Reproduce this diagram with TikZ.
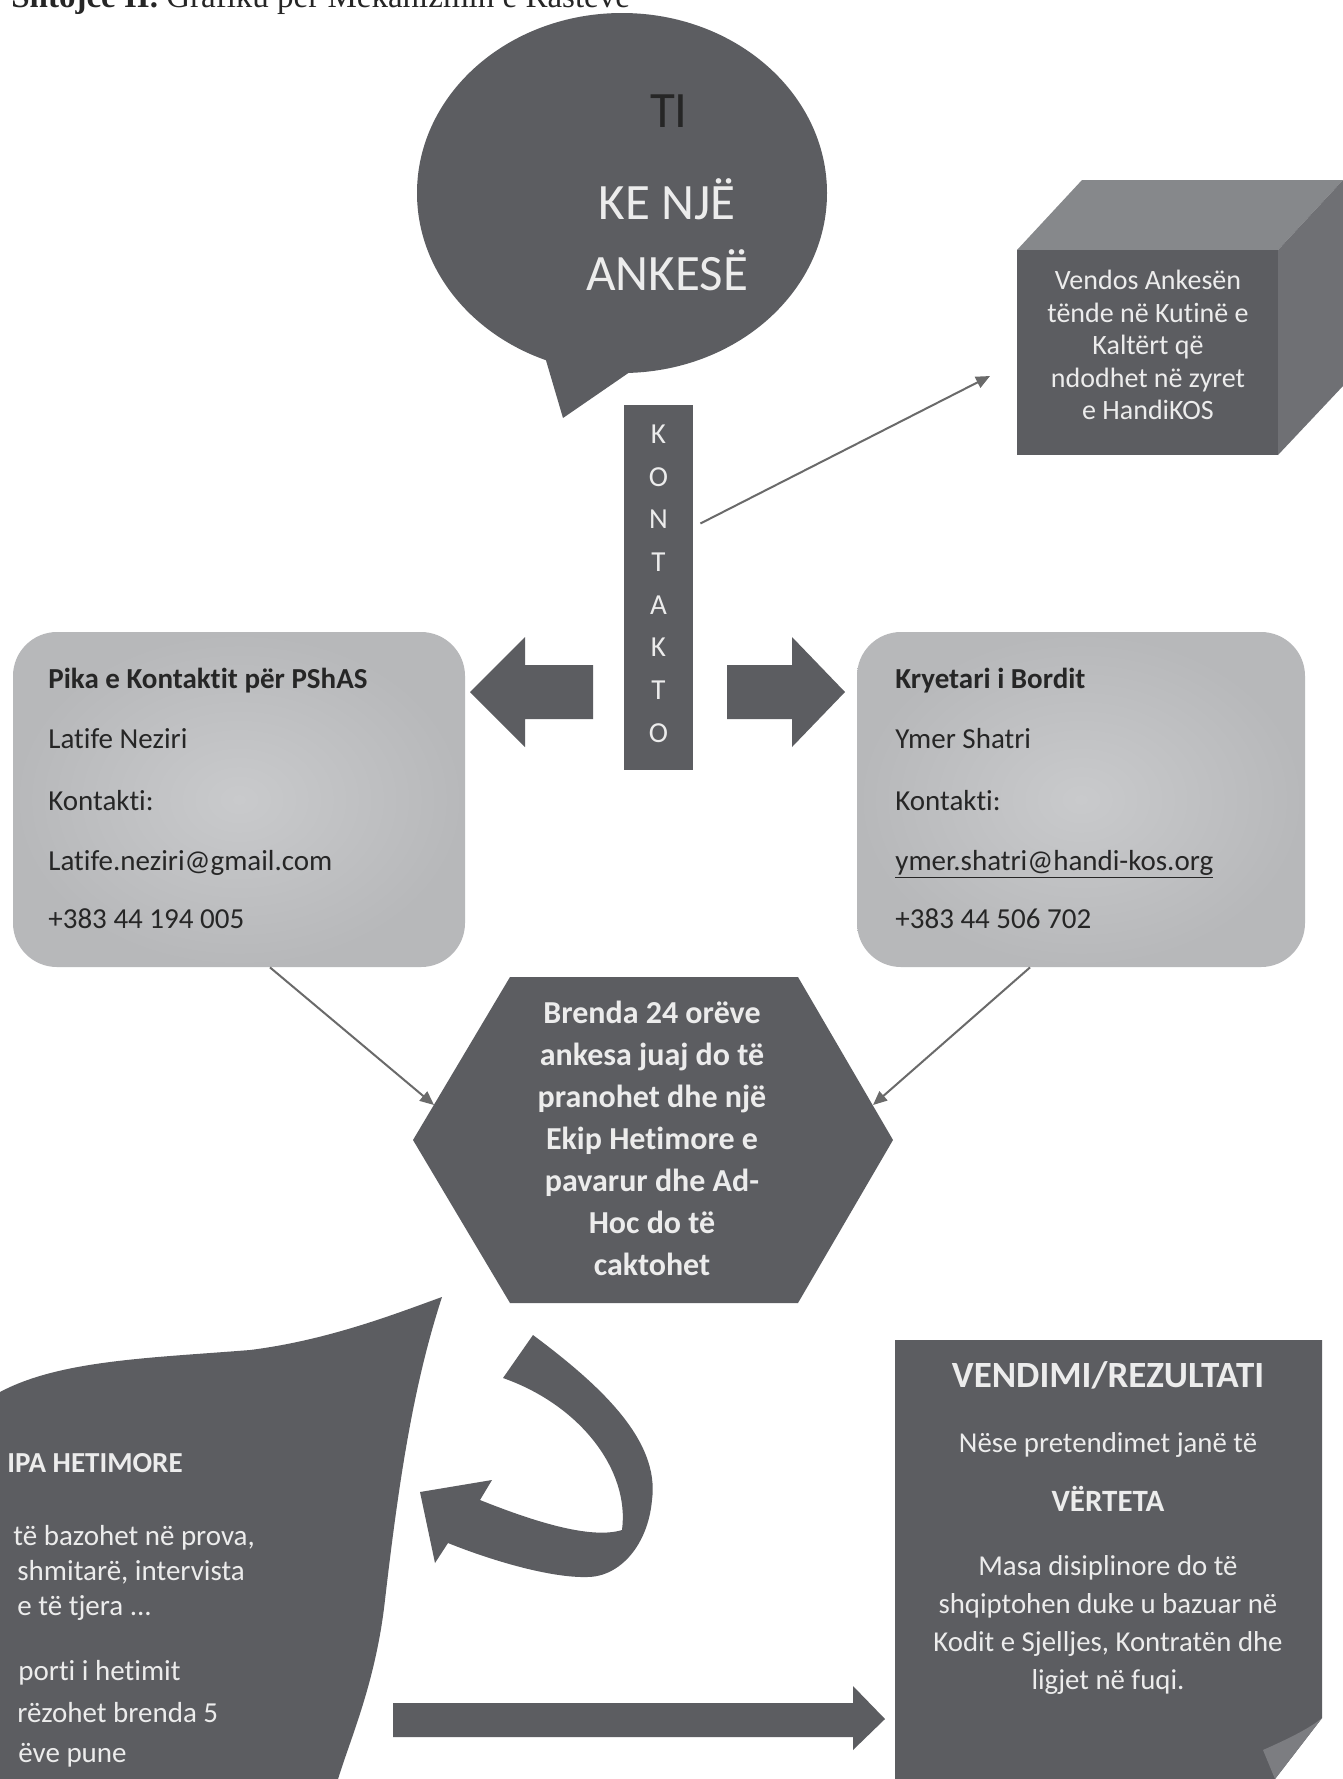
\documentclass[tikz,border=0pt]{standalone}
\usepackage{fontspec}
\setmainfont{Carlito}[Ligatures=NoCommon]
\newfontfamily\serifhead{Liberation Serif}
\usetikzlibrary{arrows.meta}

\definecolor{slate}{HTML}{5C5D61}
\definecolor{slatetop}{HTML}{86888B}
\definecolor{slateside}{HTML}{6F7074}
\definecolor{flapgray}{HTML}{7C7D81}
\definecolor{cardgray}{HTML}{B7B8BA}
\definecolor{cardlight}{HTML}{C9CACC}
\definecolor{inkdark}{HTML}{262626}
\definecolor{inklight}{HTML}{ECECEC}
\definecolor{wiregray}{HTML}{6A6A6A}

\begin{document}
\begin{tikzpicture}[x=0.5pt,y=-0.5pt,
  slab/.style={fill=slate},
  wire/.style={draw=wiregray,line width=1pt,-{Triangle[length=7pt,width=6pt]}},
  card/.style={rounded corners=22pt,inner color=cardlight,outer color=cardgray,
    minimum height=167.5pt,inner sep=0pt},
  cardtxt/.style={anchor=base west,inner sep=0pt,text=inkdark,
    font=\fontsize{14.5}{17}\selectfont},
  pale/.style={text=inklight},
  bigtxt/.style={anchor=base,inner sep=0pt,font=\fontsize{25.5}{30}\selectfont},
  leaftxt/.style={anchor=base west,inner sep=0pt,text=inklight,
    font=\fontsize{14.5}{17}\selectfont},
  ]
  \useasboundingbox[fill=white] (0,0) rectangle (1343,1779);
  % title, cut by the top of the page
  \node[anchor=base west,inner sep=0pt,text=inkdark,
    font=\serifhead\fontsize{16.5}{18}\selectfont] (title) at (11,7)
    {\textbf{Shtojce II.} Grafiku për Mekanizmin e Rastëve};
  %
  % speech bubble
  \fill[slab] (622,193) ellipse [x radius=205,y radius=180];
  \fill[slab] (540,340) -- (563,418) -- (640,365) -- cycle;
  \node[bigtxt,text=inkdark] (ti) at (669,127) {TI};
  \node[bigtxt,pale] (kenje) at (667,219) {KE NJË};
  \node[bigtxt,pale] (ankese) at (667,290) {ANKESË};
  %
  % box
  \coordinate (fa) at (1017,250);
  \coordinate (fb) at (1278,250);
  \coordinate (fc) at (1278,455);
  \coordinate (ba) at (1082,180);
  \coordinate (bb) at (1343,180);
  \coordinate (bc) at (1343,386);
  \fill[slatetop] (fa) -- (ba) -- (bb) -- (fb) -- cycle;
  \fill[slateside] (fb) -- (bb) -- (bc) -- (fc) -- cycle;
  \fill[slab] (fa) rectangle (fc);
  \node[pale,align=center,inner sep=0pt,font=\fontsize{14}{16.25}\selectfont] (kutia)
    at (1148,345) {Vendos Ankesën\\tënde në Kutinë e\\Kaltërt që\\ndodhet në zyret\\e HandiKOS};
  \coordinate (kutiain) at (990,376);
  %
  % vertical bar
  \node[slab,inner sep=0pt,minimum width=34.5pt,minimum height=182.5pt] (kbar) at (658.5,587.5) {};
  \foreach \ch [count=\i from 0] in {K,O,N,T,A,K,T,O}
    \node[pale,inner sep=0pt,font=\fontsize{14.5}{16}\selectfont] (kl\i) at (658.5,{434+42.7*\i}) {\ch};
  \draw[wire] ([shift={(7,-64)}]kbar.east) -- (kutiain);
  %
  % block arrows
  \fill[slab] (593,665) -- (525,665) -- (525,637) -- (470,692) -- (525,747) -- (525,719) -- (593,719) -- cycle;
  \fill[slab] (727,665) -- (792,665) -- (792,637) -- (845,692) -- (792,747) -- (792,719) -- (727,719) -- cycle;
  %
  % contact cards
  \node[card,minimum width=226pt] (pika) at (239,799.5) {};
  \node[card,minimum width=224pt] (kryetar) at (1081,799.5) {};
  \node[cardtxt,font=\fontsize{14.5}{17}\selectfont\bfseries] (pika1) at (48,688) {Pika e Kontaktit për PShAS};
  \node[cardtxt] (pika2) at (48,748) {Latife Neziri};
  \node[cardtxt] (pika3) at (48,810) {Kontakti:};
  \node[cardtxt] (pika4) at (48,870) {Latife.neziri@gmail.com};
  \node[cardtxt] (pika5) at (48,928) {+383 44 194 005};
  \node[cardtxt,font=\fontsize{14.5}{17}\selectfont\bfseries] (kryetar1) at (895,688) {Kryetari i Bordit};
  \node[cardtxt] (kryetar2) at (895,748) {Ymer Shatri};
  \node[cardtxt] (kryetar3) at (895,810) {Kontakti:};
  \node[cardtxt] (kryetar4) at (895,870) {\underline{ymer.shatri@handi-kos.org}};
  \node[cardtxt] (kryetar5) at (895,928) {+383 44 506 702};
  %
  % hexagon
  \coordinate (hx1) at (510,977);
  \coordinate (hx2) at (798,977);
  \coordinate (hx3) at (893,1140);
  \coordinate (hx4) at (798,1303);
  \coordinate (hx5) at (510,1303);
  \coordinate (hx6) at (413,1140);
  \fill[slab] (hx1) -- (hx2) -- (hx3) -- (hx4) -- (hx5) -- (hx6) -- cycle;
  \node[pale,align=center,inner sep=0pt,font=\fontsize{16}{21}\selectfont\bfseries] (hextxt)
    at (652,1138) {Brenda 24 orëve\\ankesa juaj do të\\pranohet dhe një\\Ekip Hetimore e\\pavarur dhe Ad-\\Hoc do të\\caktohet};
  \coordinate (hexinl) at (434,1105);
  \coordinate (hexinr) at (873,1105);
  \draw[wire] ([xshift=15.5pt]pika.south) -- (hexinl);
  \draw[wire] ([xshift=-25.5pt]kryetar.south) -- (hexinr);
  %
  % leaf, running off the page
  \fill[slab] (-5,1392) -- (0,1392) .. controls (60,1360) and (150,1358) .. (250,1350)
    .. controls (330,1340) and (400,1312) .. (442,1297)
    .. controls (415,1380) and (400,1470) .. (385,1600)
    .. controls (375,1690) and (345,1750) .. (335,1790) -- (-5,1790) -- cycle;
  \node[leaftxt,font=\fontsize{14.5}{17}\selectfont\bfseries] (leaf1) at (7,1472) {IPA HETIMORE};
  \node[leaftxt] (leaf2) at (13,1545) {të bazohet në prova,};
  \node[leaftxt] (leaf3) at (17,1580) {shmitarë, intervista};
  \node[leaftxt] (leaf4) at (17,1615) {e të tjera ...};
  \node[leaftxt] (leaf5) at (18,1680) {porti i hetimit};
  \node[leaftxt] (leaf6) at (17,1722) {rëzohet brenda 5};
  \node[leaftxt] (leaf7) at (18,1762) {ëve pune};
  %
  % u-turn arrow
  \fill[slab] (533,1335) .. controls (600,1385) and (660,1440) .. (652,1500)
    .. controls (648,1545) and (620,1577) .. (587,1577)
    .. controls (550,1578) and (490,1560) .. (448,1543)
    -- (435,1563) -- (420,1492) -- (492,1480) -- (480,1500)
    .. controls (530,1520) and (590,1540) .. (622,1530)
    .. controls (630,1470) and (580,1405) .. (503,1378) -- cycle;
  %
  % long arrow
  \fill[slab] (393,1703) -- (853,1703) -- (853,1686) -- (885,1719) -- (853,1750) -- (853,1737) -- (393,1737) -- cycle;
  %
  % result sheet
  \fill[slab] (895,1340) -- (1322,1340) -- (1322,1718) -- (1275,1779) -- (895,1779) -- cycle;
  \fill[flapgray] (1263,1750) .. controls (1290,1738) and (1310,1728) .. (1322,1718) -- (1275,1779) -- cycle;
  \node[anchor=base,inner sep=0pt,pale,font=\fontsize{18.5}{22}\selectfont\bfseries] (vendim1) at (1108,1387) {VENDIMI/REZULTATI};
  \node[anchor=base,inner sep=0pt,pale,font=\fontsize{14.4}{17}\selectfont] (vendim2) at (1108,1452) {Nëse pretendimet janë të};
  \node[anchor=base,inner sep=0pt,pale,font=\fontsize{15.5}{18}\selectfont\bfseries] (vendim3) at (1108,1511) {VËRTETA};
  \node[pale,align=center,inner sep=0pt,font=\fontsize{14.4}{19}\selectfont] (vendim4)
    at (1108,1625) {Masa disiplinore do të\\shqiptohen duke u bazuar në\\Kodit e Sjelljes, Kontratën dhe\\ligjet në fuqi.};
\end{tikzpicture}
\end{document}
